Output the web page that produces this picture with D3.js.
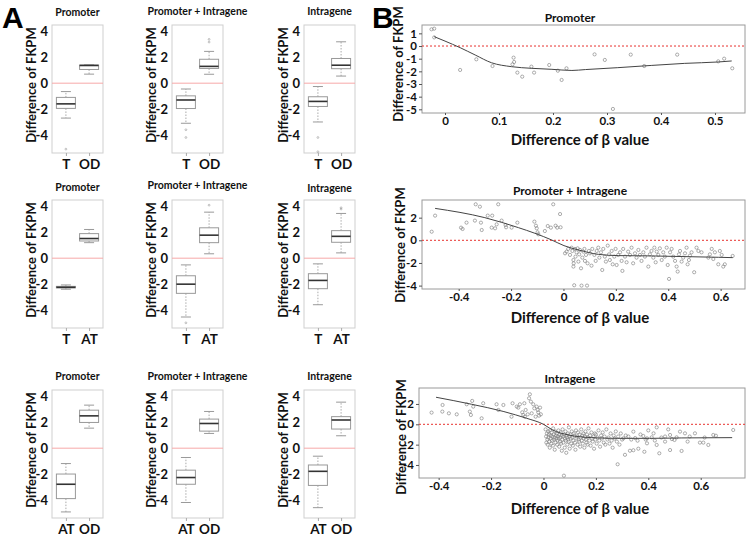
<!DOCTYPE html>
<html><head><meta charset="utf-8">
<script src="https://cdn.jsdelivr.net/npm/d3@7"></script>
<style>
body{margin:0;background:#fff;}
svg{display:block;font-family:Lato,"Liberation Sans",Arial,sans-serif;}
</style></head>
<body>
<svg id="c" width="747" height="536"></svg>
<script>
// ---------- DATA ----------
const boxTitles = ["Promoter", "Promoter + Intragene", "Intragene"];
const boxGroups = [["T", "OD"], ["T", "AT"], ["AT", "OD"]];
const boxTicks = [4, 2, 0, -2, -4];
// each group: [lowWhisker, q1, median, q3, highWhisker]
const statsRow1 = [
  [[-2.7, -1.95, -1.6, -1.1, -0.65], [0.7, 1.06, 1.37, 1.4, 1.42]],
  [[-3.1, -1.96, -1.3, -0.98, -0.45], [0.69, 1.14, 1.3, 1.85, 2.46]],
  [[-3.0, -1.8, -1.41, -1.05, -0.26], [0.55, 1.12, 1.39, 1.91, 3.2]]
];
const outliersRow1 = [[[-5.1], []], [[-3.6, -4.2], [3.18, 3.39]], [[-4.2, -5.3], []]];
const statsRow2 = [
  [[-2.4, -2.3, -2.25, -2.18, -2.07], [1.2, 1.33, 1.52, 1.9, 2.22]],
  [[-4.55, -2.72, -2.01, -1.36, -0.52], [0.34, 1.2, 1.78, 2.35, 3.56]],
  [[-3.6, -2.36, -1.72, -1.2, -0.44], [0.41, 1.23, 1.69, 2.13, 3.46]]
];
const outliersRow2 = [[[], []], [[-5.0], [4.1]], [[], [3.8, 3.9]]];
const statsRow3 = [
  [[-4.93, -3.9, -2.79, -2.0, -1.19], [1.55, 1.99, 2.5, 2.94, 3.33]],
  [[-4.2, -2.79, -2.27, -1.7, -0.72], [1.14, 1.32, 1.91, 2.25, 2.84]],
  [[-4.6, -2.88, -1.79, -1.3, -0.62], [0.96, 1.48, 2.18, 2.44, 3.56]]
];
const outliersRow3 = [[[], []], [[], []], [[], []]];

// Panel B scatter data: [difference of beta value, difference of FKPM]
const b1Points = [[-0.025,1.32],[-0.02,1.37],[-0.02,0.68],[0.028,-1.89],[0.058,-1.05],[0.088,-1.58],[0.127,-0.92],[0.128,-1.26],[0.125,-1.45],[0.134,-2.1],[0.143,-2.42],[0.16,-1.63],[0.165,-2.1],[0.193,-1.5],[0.209,-1.95],[0.216,-2.68],[0.225,-1.76],[0.277,-0.66],[0.296,-1.1],[0.311,-4.97],[0.344,-0.68],[0.369,-1.58],[0.43,-0.68],[0.506,-1.21],[0.517,-1.0],[0.532,-1.76]];
const b1Fit = [[-0.02,0.74],[0,0.39],[0.028,-0.13],[0.056,-0.71],[0.086,-1.32],[0.123,-1.63],[0.16,-1.76],[0.198,-1.84],[0.235,-1.93],[0.26,-1.86],[0.32,-1.71],[0.383,-1.53],[0.444,-1.37],[0.506,-1.26],[0.531,-1.18]];
const b2Points = [[-0.503,0.76],[-0.49,2.18],[-0.391,1.12],[-0.385,1.0],[-0.37,1.56],[-0.335,3.18],[-0.319,2.97],[-0.338,1.74],[-0.315,1.56],[-0.312,0.91],[-0.289,2.18],[-0.272,2.18],[-0.274,1.12],[-0.261,1.06],[-0.255,1.41],[-0.249,3.18],[-0.236,1.74],[-0.221,1.35],[-0.219,1.15],[-0.198,1.12],[-0.176,1.56],[-0.111,1.65],[-0.105,1.29],[-0.102,1.06],[-0.099,0.71],[-0.096,0.53],[-0.071,0.82],[-0.06,1.26],[-0.048,1.12],[-0.039,3.18],[-0.03,1.29],[-0.024,1.12],[-0.013,2.32],[-0.011,1.15],
[0.006,-1.15],[0.012,-1.0],[0.018,-0.76],[0.025,-1.29],[0.031,-0.65],[0.034,-0.94],[0.038,-1.74],[0.038,-2.32],[0.039,-2.03],[0.041,-3.97],[0.044,-0.76],[0.046,-1.44],[0.05,-1.06],[0.054,-0.71],[0.057,-1.88],[0.06,-1.24],[0.063,-0.85],[0.067,-2.47],[0.069,-4.0],[0.072,-1.53],[0.076,-1.0],[0.08,-0.76],[0.082,-1.82],[0.086,-1.29],[0.09,-4.0],[0.092,-2.03],[0.097,-0.94],[0.101,-1.15],[0.107,-2.24],[0.11,-0.76],[0.118,-1.29],[0.123,-1.82],[0.127,-0.94],[0.133,-0.65],[0.137,-1.53],[0.143,-1.06],[0.148,-2.62],[0.152,-0.76],[0.158,-1.44],[0.162,-1.88],[0.169,-0.47],[0.174,-1.24],[0.177,-1.74],[0.184,-0.94],[0.188,-2.12],[0.194,-1.44],[0.199,-0.76],[0.203,-2.18],[0.209,-1.29],[0.216,-1.06],[0.222,-1.82],[0.225,-2.7],[0.228,-0.76],[0.235,-1.44],[0.241,-1.94],[0.247,-1.0],[0.254,-1.29],[0.26,-0.65],[0.266,-2.03],[0.273,-1.15],[0.279,-1.53],[0.286,-0.85],[0.292,-1.29],[0.298,-1.82],[0.305,-1.06],[0.311,-1.44],[0.317,-0.65],[0.324,-2.32],[0.33,-1.24],[0.336,-0.94],[0.343,-1.53],[0.347,-0.65],[0.352,-1.94],[0.356,-1.0],[0.362,-1.29],[0.368,-0.71],[0.375,-1.74],[0.381,-1.06],[0.387,-1.44],[0.394,-0.65],[0.398,-2.18],[0.403,-3.41],[0.407,-1.06],[0.413,-0.76],[0.419,-1.44],[0.426,-1.82],[0.432,-2.32],[0.436,-2.76],[0.441,-1.24],[0.445,-0.94],[0.451,-1.88],[0.457,-1.53],[0.464,-1.15],[0.47,-0.65],[0.474,-2.12],[0.479,-1.74],[0.483,-1.35],[0.489,-1.06],[0.499,-2.82],[0.508,-0.65],[0.515,-0.94],[0.527,-1.06],[0.553,-1.53],[0.559,-1.24],[0.566,-0.76],[0.572,-1.65],[0.578,-1.06],[0.591,-2.12],[0.597,-0.94],[0.604,-1.29],[0.61,-2.32],[0.616,-2.12],[0.646,-1.38]];
const b2Fit = [[-0.49,2.82],[-0.3,2.0],[-0.172,1.12],[-0.109,0.62],[-0.045,0.03],[0.002,-0.47],[0.057,-0.85],[0.133,-1.24],[0.209,-1.35],[0.336,-1.38],[0.464,-1.44],[0.591,-1.5],[0.646,-1.53]];
const b3Points = [[-0.427,1.15],[-0.385,1.9],[-0.386,1.25],[-0.361,1.08],[-0.331,0.98],[-0.293,1.97],[-0.281,1.25],[-0.277,0.92],[-0.272,2.3],[-0.268,1.74],[-0.236,0.59],[-0.23,2.07],[-0.179,1.97],[-0.172,1.41],[-0.153,1.9],[-0.122,0.75],[-0.118,2.07],[-0.102,1.74],[-0.096,1.64],[-0.09,1.97],[-0.081,1.18],[-0.077,0.92],[-0.073,2.07],[-0.071,0.75],[-0.068,1.41],[-0.06,0.98],[-0.055,2.56],[-0.052,2.95],[-0.048,2.23],[-0.045,1.08],[-0.039,1.97],[-0.035,1.57],[-0.03,0.75],[-0.026,1.74],[-0.022,1.41],[-0.02,1.18],[-0.017,0.85],[-0.013,1.64],[-0.01,0.98],
[0.008,-0.5],[0.01,-1.2],[0.011,-1.8],[0.013,-0.9],[0.015,-1.5],[0.016,-2.0],[0.018,-0.7],[0.019,-1.3],[0.021,-1.0],[0.022,-1.7],[0.024,-2.3],[0.025,-0.6],[0.027,-1.4],[0.028,-1.1],[0.03,-1.9],[0.031,-0.8],[0.033,-1.6],[0.034,-1.2],[0.036,-2.1],[0.037,-0.4],[0.039,-1.0],[0.04,-1.5],[0.042,-1.3],[0.043,-2.5],[0.045,-0.7],[0.046,-1.8],[0.048,-1.1],[0.049,-1.4],[0.051,-0.9],[0.052,-2.0],[0.054,-1.6],[0.055,-1.2],[0.057,-0.6],[0.058,-1.4],[0.06,-2.2],[0.061,-1.0],[0.063,-1.7],[0.064,-1.3],[0.066,-0.8],[0.067,-1.9],[0.069,-1.1],[0.07,-2.6],[0.072,-1.5],[0.073,-0.5],[0.075,-1.2],[0.076,-1.8],[0.078,-5.05],[0.079,-1.0],[0.081,-2.3],[0.082,-1.4],[0.084,-0.7],[0.085,-1.6],[0.087,-2.8],[0.088,-1.1],[0.09,-1.3],[0.091,-2.0],[0.093,-0.9],[0.094,-1.5],[0.096,-1.7],[0.097,-0.3],[0.099,-1.2],[0.1,-2.4],[0.102,-1.0],[0.104,-1.4],[0.106,-1.9],[0.108,-0.7],[0.11,-1.3],[0.112,-2.1],[0.114,-1.6],[0.116,-0.9],[0.118,-1.1],[0.12,-1.8],[0.122,-2.5],[0.124,-0.6],[0.126,-1.4],[0.128,-1.2],[0.13,-2.0],[0.132,-0.8],[0.134,-1.5],[0.136,-1.7],[0.138,-1.0],[0.14,-2.2],[0.142,-1.3],[0.144,-0.5],[0.146,-1.6],[0.148,-1.1],[0.15,-1.9],[0.152,-0.9],[0.154,-1.4],[0.156,-2.3],[0.158,-1.2],[0.16,-0.7],[0.162,-1.5],[0.164,-1.8],[0.166,-1.0],[0.168,-2.0],[0.17,-1.3],[0.172,-0.4],[0.175,-1.6],[0.178,-1.1],[0.18,-2.1],[0.183,-0.8],[0.186,-1.4],[0.188,-1.7],[0.19,-1.2],[0.193,-2.4],[0.196,-0.9],[0.198,-1.5],[0.2,-1.0],[0.203,-1.9],[0.206,-1.3],[0.21,-0.6],[0.213,-1.6],[0.216,-2.2],[0.22,-1.1],[0.223,-1.4],[0.226,-0.8],[0.23,-1.8],[0.233,-1.2],[0.236,-2.0],[0.24,-0.5],[0.244,-1.5],[0.248,-1.3],[0.252,-1.9],[0.256,-0.9],[0.26,-1.6],[0.264,-2.3],[0.268,-1.1],[0.272,-1.4],[0.276,-0.7],[0.28,-1.7],[0.283,-3.93],[0.285,-1.2],[0.29,-2.0],[0.295,-0.9],[0.3,-1.5],
[0.305,-1.38],[0.311,-3.0],[0.314,-1.1],[0.324,-1.2],[0.33,-2.6],[0.335,-1.5],[0.343,-0.72],[0.343,-2.55],[0.35,-1.35],[0.359,-1.61],[0.362,-2.4],[0.37,-1.0],[0.381,-1.15],[0.385,-2.7],[0.39,-1.5],[0.395,-1.38],[0.395,-1.87],[0.4,-0.6],[0.413,-1.28],[0.42,-0.89],[0.425,-1.6],[0.432,-0.3],[0.432,-2.03],[0.442,-2.85],[0.45,-1.3],[0.464,-1.2],[0.464,-1.7],[0.476,-0.5],[0.483,-1.05],[0.483,-2.53],[0.49,-1.45],[0.5,-1.54],[0.508,-1.28],[0.521,-0.72],[0.527,-2.62],[0.54,-0.89],[0.55,-1.7],[0.558,-1.2],[0.578,-0.89],[0.597,-1.8],[0.61,-1.8],[0.615,-1.3],[0.629,-2.03],[0.648,-1.05],[0.658,-1.12],[0.724,-0.56]];
const b3Fit = [[-0.41,2.66],[-0.274,1.97],[-0.151,1.25],[-0.064,0.59],[0,0],[0.035,-0.56],[0.096,-1.05],[0.183,-1.31],[0.281,-1.38],[0.405,-1.38],[0.528,-1.34],[0.72,-1.31]];

const b1XTicks = [0, 0.1, 0.2, 0.3, 0.4, 0.5];
const b1YTicks = [1, 0, -1, -2, -3, -4, -5];
const b2XTicks = [-0.4, -0.2, 0, 0.2, 0.4, 0.6];
const b2YTicks = [2, 0, -2, -4];
const b3XTicks = [-0.4, -0.2, 0, 0.2, 0.4, 0.6];
const b3YTicks = [2, 0, -2, -4];
const scatterTitles = ["Promoter", "Promoter + Intragene", "Intragene"];

// ---------- DRAW ----------
const svg = d3.select("#c");
const fmt = d => String(d);

svg.append("text").attr("x", 2).attr("y", 28).attr("font-size", 30).attr("font-weight", "bold")
  .attr("font-family", "Liberation Sans, Arial").text("A");
svg.append("text").attr("x", 372).attr("y", 28).attr("font-size", 30).attr("font-weight", "bold")
  .attr("font-family", "Liberation Sans, Arial").text("B");

const colX = [52, 172, 304];
const rowY = [25, 200, 390];
const bw = 51, bh = 128;
const rowsStats = [statsRow1, statsRow2, statsRow3];
const rowsOut = [outliersRow1, outliersRow2, outliersRow3];
const titleOff = [[-9, -10, -10], [-9, -11, -8], [-10, -10, -10]];

rowsStats.forEach((rowStats, r) => {
  rowStats.forEach((panel, c) => {
    const x0 = colX[c], y0 = rowY[r];
    const g = svg.append("g").attr("transform", `translate(${x0},${y0})`);
    const y = d3.scaleLinear().domain([-5.4, 4.5]).range([bh, 0]);
    const x = d3.scalePoint().domain(boxGroups[r]).range([0, bw]).padding(0.6);
    const boxW = 19;
    g.append("rect").attr("width", bw).attr("height", bh).attr("fill", "none").attr("stroke", "#cfcfcf").attr("stroke-width", 1);
    g.append("line").attr("x1", 0).attr("x2", bw).attr("y1", y(0)).attr("y2", y(0)).attr("stroke", "#f7a8a8").attr("stroke-width", 1);
    panel.forEach((s, i) => {
      const cx = x(boxGroups[r][i]);
      const [lo, q1, md, q3, hi] = s;
      g.append("line").attr("x1", cx).attr("x2", cx).attr("y1", y(q3)).attr("y2", y(hi)).attr("stroke", "#aaa").attr("stroke-dasharray", "1.5,1.5");
      g.append("line").attr("x1", cx).attr("x2", cx).attr("y1", y(q1)).attr("y2", y(lo)).attr("stroke", "#aaa").attr("stroke-dasharray", "1.5,1.5");
      g.append("line").attr("x1", cx - 5).attr("x2", cx + 5).attr("y1", y(hi)).attr("y2", y(hi)).attr("stroke", "#999");
      g.append("line").attr("x1", cx - 5).attr("x2", cx + 5).attr("y1", y(lo)).attr("y2", y(lo)).attr("stroke", "#999");
      g.append("rect").attr("x", cx - boxW / 2).attr("width", boxW).attr("y", y(q3)).attr("height", Math.max(1, y(q1) - y(q3)))
        .attr("fill", "#fff").attr("stroke", "#999");
      g.append("line").attr("x1", cx - boxW / 2).attr("x2", cx + boxW / 2).attr("y1", y(md)).attr("y2", y(md)).attr("stroke", "#333").attr("stroke-width", 1.6);
      rowsOut[r][c][i].forEach(v => {
        g.append("circle").attr("cx", cx).attr("cy", y(v)).attr("r", 0.9).attr("fill", "none").attr("stroke", "#999").attr("stroke-width", 0.6);
      });
    });
    const ya = g.append("g").call(d3.axisLeft(y).tickValues(boxTicks).tickSize(0).tickPadding(4).tickFormat(fmt));
    ya.select(".domain").remove();
    ya.selectAll("text").attr("font-size", 13).attr("font-weight", "bold").attr("fill", "#111").attr("font-family", "Lato, sans-serif");
    const xa = g.append("g").attr("transform", `translate(0,${bh})`).call(d3.axisBottom(x).tickSize(3).tickPadding(3));
    xa.select(".domain").remove();
    xa.selectAll("line").attr("stroke", "#aaa");
    xa.selectAll("text").attr("font-size", 13.5).attr("font-weight", "bold").attr("fill", "#111").attr("font-family", "Lato, sans-serif");
    g.append("text").attr("x", bw / 2).attr("y", titleOff[r][c]).attr("text-anchor", "middle")
      .attr("font-size", 10.5).attr("font-weight", "bold").attr("fill", "#111").text(boxTitles[c]);
    g.append("text").attr("transform", `translate(-21,${bh / 2 - 4}) rotate(-90)`).attr("text-anchor", "middle")
      .attr("dy", "0.35em").attr("font-size", 13).attr("font-weight", "bold").attr("fill", "#111").text("Difference of FKPM");
  });
});

const scat = [
  {pts: b1Points, fit: b1Fit, xt: b1XTicks, yt: b1YTicks, L: 422, R: 745, T: 25, B: 113, xd: [-0.0426, 0.5556], yd: [-5.29, 1.66], titleY: 22, xlabY: 145, ylabX: 398, ylabY: 64},
  {pts: b2Points, fit: b2Fit, xt: b2XTicks, yt: b2YTicks, L: 422, R: 745, T: 200, B: 289, xd: [-0.540, 0.693], yd: [-4.30, 3.56], titleY: 195, xlabY: 323, ylabX: 400, ylabY: 245},
  {pts: b3Points, fit: b3Fit, xt: b3XTicks, yt: b3YTicks, L: 419, R: 745, T: 388, B: 478, xd: [-0.475, 0.769], yd: [-5.28, 3.57], titleY: 383, xlabY: 514, ylabX: 401, ylabY: 437}
];
scat.forEach((p, k) => {
  const x = d3.scaleLinear().domain(p.xd).range([p.L, p.R]);
  const y = d3.scaleLinear().domain(p.yd).range([p.B, p.T]);
  const g = svg.append("g");
  g.append("rect").attr("x", p.L).attr("y", p.T).attr("width", p.R - p.L).attr("height", p.B - p.T)
    .attr("fill", "none").attr("stroke", "#9a9a9a");
  g.append("line").attr("x1", p.L).attr("x2", p.R).attr("y1", y(0)).attr("y2", y(0))
    .attr("stroke", "#e8322f").attr("stroke-width", 1).attr("stroke-dasharray", "2,2");
  g.selectAll("circle.pt").data(p.pts).join("circle").attr("class", "pt")
    .attr("cx", d => x(d[0])).attr("cy", d => y(d[1])).attr("r", 1.6)
    .attr("fill", "none").attr("stroke", "#777").attr("stroke-width", 0.6);
  g.append("path").datum(p.fit).attr("d", d3.line().x(d => x(d[0])).y(d => y(d[1])).curve(d3.curveMonotoneX))
    .attr("fill", "none").attr("stroke", "#444").attr("stroke-width", 1);
  const ya = g.append("g").attr("transform", `translate(${p.L},0)`)
    .call(d3.axisLeft(y).tickValues(p.yt).tickSize(3).tickPadding(2).tickFormat(fmt));
  ya.select(".domain").remove();
  ya.selectAll("line").attr("stroke", "#555");
  ya.selectAll("text").attr("font-size", 11.5).attr("font-weight", "bold").attr("fill", "#111").attr("font-family", "Lato, sans-serif");
  const xa = g.append("g").attr("transform", `translate(0,${p.B})`)
    .call(d3.axisBottom(x).tickValues(p.xt).tickSize(2).tickPadding(2).tickFormat(fmt));
  xa.select(".domain").remove();
  xa.selectAll("line").attr("stroke", "#555");
  xa.selectAll("text").attr("font-size", 11.5).attr("font-weight", "bold").attr("fill", "#111").attr("font-family", "Lato, sans-serif");
  g.append("text").attr("x", 570).attr("y", p.titleY).attr("text-anchor", "middle")
    .attr("font-size", 12).attr("font-weight", "bold").attr("fill", "#111").text(scatterTitles[k]);
  g.append("text").attr("x", 580).attr("y", p.xlabY).attr("text-anchor", "middle")
    .attr("font-size", 15).attr("font-weight", "bold").attr("fill", "#111").text("Difference of β value");
  g.append("text").attr("transform", `translate(${p.ylabX},${p.ylabY}) rotate(-90)`).attr("text-anchor", "middle")
    .attr("dy", "0.35em").attr("font-size", 13).attr("font-weight", "bold").attr("fill", "#111").text("Difference of FKPM");
});
</script>
</body></html>
